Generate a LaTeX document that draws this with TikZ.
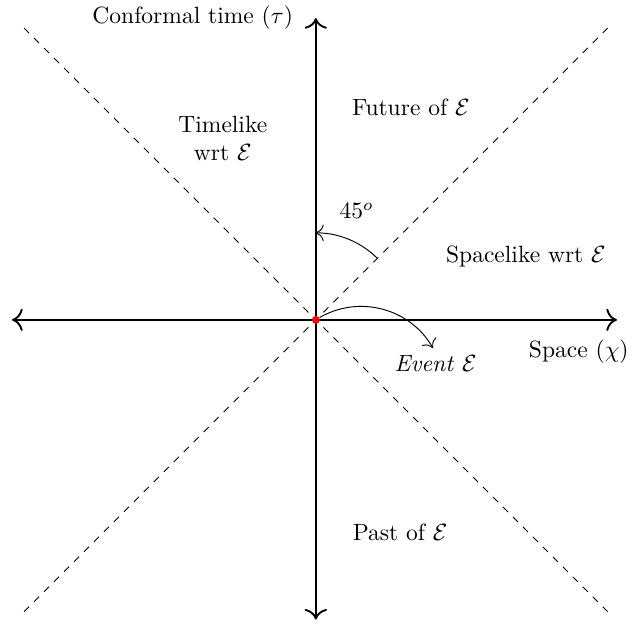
\documentclass[tikz,border=0pt]{standalone}
\usetikzlibrary{arrows.meta,positioning,calc}

\begin{document}
\begin{tikzpicture}[
        >={To[scale=1.35]},
        axis/.style={thick, <->},
        cone/.style={dashed},
        region/.style={font=\normalsize, align=center},
        event/.style={circle, fill=red, inner sep=0pt, minimum size=3.4pt},
    ]
        \useasboundingbox (-4.72,-4.54) rectangle (4.74,4.78);

        % Event at the origin
        \coordinate (O) at (0,0);
        \coordinate (xl) at (-4.54,0);
        \coordinate (xr) at (4.5,0);
        \coordinate (yt) at (0,4.51);
        \coordinate (yb) at (0,-4.48);

        % Light cone
        \coordinate (ct1) at (-4.36,4.36);
        \coordinate (ct2) at (4.36,4.36);
        \coordinate (cb1) at (-4.36,-4.36);
        \coordinate (cb2) at (4.36,-4.36);
        \draw[cone] (cb1) -- (ct2);
        \draw[cone] (ct1) -- (cb2);

        % Axes
        \draw[axis] (xl) -- (xr);
        \draw[axis] (yb) -- (yt);

        \node[event] (ev) at (O) {};

        % Labels
        \node (tlabel) at (-1.84,4.51) {Conformal time ($\tau$)};
        \node (xlabel) at (3.93,-0.48) {Space ($\chi$)};
        \node[region] (future) at (1.42,3.17) {Future of $\mathcal{E}$};
        \node[region] (past) at (1.26,-3.17) {Past of $\mathcal{E}$};
        \node[region] (timelike) at (-1.39,2.71) {Timelike\\wrt $\mathcal{E}$};
        \node[region] (spacelike) at (3.14,0.94) {Spacelike wrt $\mathcal{E}$};
        \node (angle) at (0.61,1.63) {$45^o$};
        \node (evlabel) at (1.79,-0.66) {\textit{Event} $\mathcal{E}$};

        % Angle between cone and time axis
        \draw[->] (45:1.3) arc (45:90:1.3);

        % Pointer to the event
        \coordinate (evtip) at (1.75,-0.42);
        \draw[->] (ev) to[bend left=45] (evtip);
    \end{tikzpicture}
\end{document}
